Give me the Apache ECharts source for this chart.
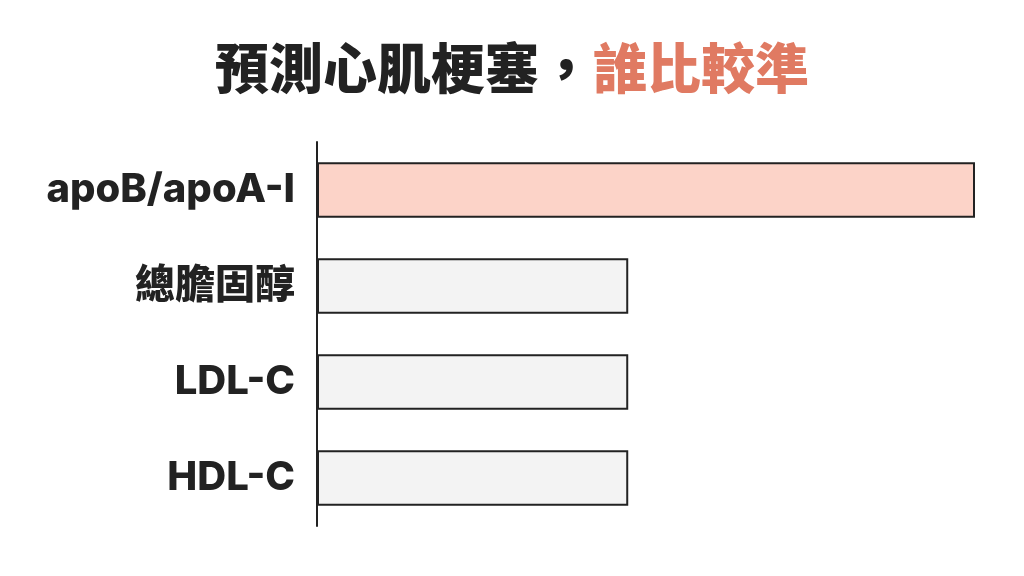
<!DOCTYPE html>
<html lang="zh-Hant">
<head>
	<meta charset="UTF-8">
	<title>預測心肌梗塞，誰比較準</title>
	<script src="https://cdn.jsdelivr.net/npm/echarts@6/dist/echarts.min.js"></script>
	<style>
		html, body { margin: 0; padding: 0; background: #ffffff; }
		#main { width: 1024px; height: 576px; }
	</style>
</head>
<body>
	<div id="main"></div>
<script>
// 資料
var categories = ['apoB/apoA-I', '總膽固醇', 'LDL-C', 'HDL-C'];
var values = [100, 47.3, 47.3, 47.3];
var highlight = [true, false, false, false];

var chart = echarts.init(document.getElementById('main'));

var fontFamily = 'Inter, "Noto Sans CJK TC", sans-serif';

var option = {
	backgroundColor: '#ffffff',
	title: {
		text: '{a|預測心肌梗塞，}{b|誰比較準}',
		left: 'center',
		top: 36,
		textStyle: {
			rich: {
				a: { fontSize: 54, fontWeight: 900, color: '#222222', fontFamily: '"Noto Sans CJK TC", sans-serif' },
				b: { fontSize: 54, fontWeight: 900, color: '#E07A62', fontFamily: '"Noto Sans CJK TC", sans-serif' }
			}
		}
	},
	grid: {
		left: 317,
		right: 49,
		top: 142,
		height: 384
	},
	xAxis: {
		type: 'value',
		min: 0,
		max: 100,
		show: false
	},
	yAxis: {
		type: 'category',
		inverse: true,
		data: categories,
		axisLine: { show: true, lineStyle: { color: '#222222', width: 2 } },
		axisTick: { show: false },
		axisLabel: {
			margin: 22,
			fontSize: 40,
			fontWeight: 800,
			color: '#222222',
			fontFamily: fontFamily
		}
	},
	series: [
		{
			type: 'bar',
			barCategoryGap: '42%',
			silent: true,
			data: values.map(function (v, i) {
				return {
					value: v,
					itemStyle: {
						color: highlight[i] ? '#FCD3C8' : '#F3F3F3',
						borderColor: '#222222',
						borderWidth: 2
					}
				};
			})
		}
	]
};

chart.setOption(option);
</script>
</body>
</html>
